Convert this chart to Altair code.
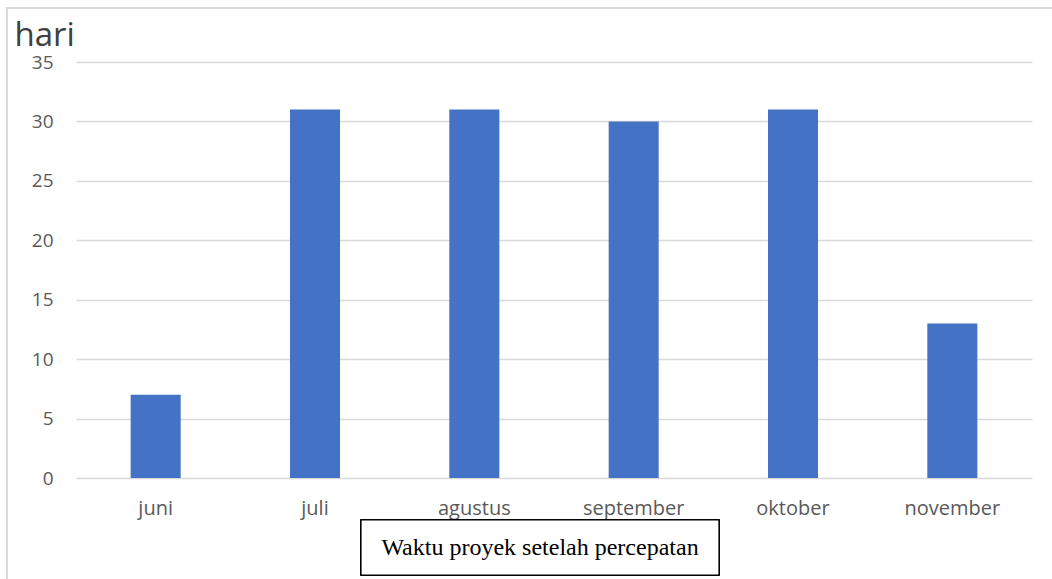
import altair as alt
import pandas as pd

months = ["juni", "juli", "agustus", "september", "oktober", "november"]
days = [7, 31, 31, 30, 31, 13]
y_ticks = [0, 5, 10, 15, 20, 25, 30, 35]
caption = "Waktu proyek setelah percepatan"
y_title = "hari"

df = pd.DataFrame({"bulan": months, "hari": days})

bars = alt.Chart(df).mark_bar(color="#4472C4").encode(
    x=alt.X("bulan:N", sort=months,
            scale=alt.Scale(paddingInner=0.686, paddingOuter=0.343),
            axis=alt.Axis(title=None, labelAngle=0, ticks=False, domain=False,
                          labelFont="Open Sans", labelFontSize=20, labelColor="#595959",
                          labelPadding=20, grid=False)),
    y=alt.Y("hari:Q", scale=alt.Scale(domain=[0, 35], nice=False),
            axis=alt.Axis(values=y_ticks, title=y_title, titleAngle=0,
                          titleX=-62, titleY=-17, titleAlign="left", titleBaseline="alphabetic",
                          titleFont="Open Sans", titleFontSize=33, titleFontWeight="normal",
                          titleColor="#404040",
                          ticks=False, domain=False, labelPadding=23,
                          labelFont="Open Sans", labelFontSize=19, labelColor="#595959",
                          gridColor="#d9d9d9", gridWidth=1.5)),
)

frame = alt.Chart(df).mark_rect(fill=None, stroke="#d9d9d9", strokeWidth=1.5).encode(
    x=alt.value(-69), x2=alt.value(1000), y=alt.value(-54), y2=alt.value(540)
)

box = alt.Chart(df).mark_rect(fill="white", stroke="black", strokeWidth=1.2).encode(
    x=alt.value(285), x2=alt.value(643), y=alt.value(458), y2=alt.value(513)
)

cap = alt.Chart(pd.DataFrame({"t": [caption]})).mark_text(
    font="Liberation Serif", fontSize=24, color="black", align="center", baseline="middle"
).encode(text="t:N", x=alt.value(464), y=alt.value(486))

chart = alt.layer(frame, bars, box, cap).properties(
    width=956, height=416,
    autosize=alt.AutoSizeParams(type="none"),
    padding={"left": 76, "top": 62, "right": 20, "bottom": 101},
).configure_view(stroke=None)

chart.save("out.html", embed_options={"renderer": "svg", "actions": False})
